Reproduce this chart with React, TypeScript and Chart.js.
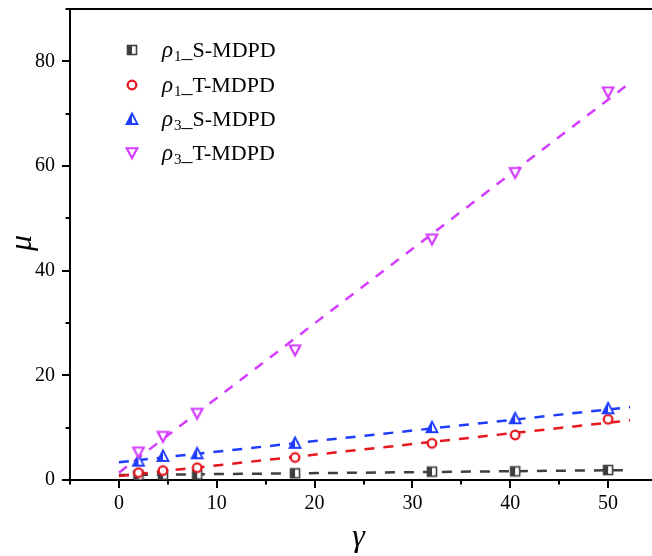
import React, { useEffect, useRef } from "react";
import { Chart, registerables } from "chart.js";

Chart.register(...registerables);

// ---- data ----
const gammaValues = [2, 4.5, 8, 18, 32, 40.5, 50];
const rho1S = [0.9, 1.0, 1.05, 1.28, 1.6, 1.65, 1.9];
const rho1T = [1.4, 1.8, 2.35, 4.3, 7.0, 8.6, 11.6];
const rho3S = [3.7, 4.6, 5.1, 7.1, 10.1, 11.8, 13.7];
const rho3T = [5.3, 8.3, 12.7, 24.8, 46.0, 58.7, 74.1];

// linear fit lines (start / end)
const fitX = [0, 52.25];
const fit1S = [0.95, 1.9];
const fit1T = [0.76, 11.4];
const fit3S = [3.4, 13.93];
const fit3T = [1.4, 75.9];

const seriesSub = ["1", "1", "3", "3"];
const seriesSuffix = ["_S-MDPD", "_T-MDPD", "_S-MDPD", "_T-MDPD"];
const seriesNames = ["ρ1_S-MDPD", "ρ1_T-MDPD", "ρ3_S-MDPD", "ρ3_T-MDPD"];

const xTickLabels = [0, 10, 20, 30, 40, 50];
const yTickLabels = [0, 20, 40, 60, 80];
const xTitle = "γ";
const yTitle = "μ";

const W = 670;
const H = 556;
const SERIF = "'Liberation Serif', 'DejaVu Serif', serif";

const COLORS = ["#3f3f3f", "#e8161e", "#1f3cff", "#d43cff"];

function makeMarker(kind: string, color: string): HTMLCanvasElement {
  const c = document.createElement("canvas");
  c.width = 16;
  c.height = 16;
  const g = c.getContext("2d")!;
  const cx = 8,
    cy = 8;
  g.strokeStyle = color;
  g.fillStyle = color;
  if (kind === "halfSquare") {
    const s = 9;
    const x0 = cx - s / 2,
      y0 = cy - s / 2;
    g.fillStyle = "#ffffff";
    g.fillRect(x0, y0, s, s);
    g.fillStyle = color;
    g.fillRect(x0, y0, s / 2, s);
    g.lineWidth = 1.6;
    g.strokeRect(x0, y0, s, s);
  } else if (kind === "circle") {
    g.lineWidth = 2.3;
    g.beginPath();
    g.arc(cx, cy, 4.3, 0, Math.PI * 2);
    g.fillStyle = "#ffffff";
    g.fill();
    g.stroke();
  } else if (kind === "halfTriUp") {
    const w = 11,
      h = 10;
    const path = () => {
      g.beginPath();
      g.moveTo(cx, cy - h / 2 - 0.5);
      g.lineTo(cx + w / 2, cy + h / 2);
      g.lineTo(cx - w / 2, cy + h / 2);
      g.closePath();
    };
    path();
    g.fillStyle = "#ffffff";
    g.fill();
    g.save();
    g.beginPath();
    g.rect(0, 0, cx, 16);
    g.clip();
    path();
    g.fillStyle = color;
    g.fill();
    g.restore();
    g.lineWidth = 1.8;
    g.lineJoin = "miter";
    path();
    g.stroke();
  } else if (kind === "triDown") {
    const w = 10.5,
      h = 9.5;
    g.beginPath();
    g.moveTo(cx - w / 2, cy - h / 2);
    g.lineTo(cx + w / 2, cy - h / 2);
    g.lineTo(cx, cy + h / 2 + 0.5);
    g.closePath();
    g.fillStyle = "#ffffff";
    g.fill();
    g.lineWidth = 2.2;
    g.stroke();
  }
  return c;
}

export default function App() {
  const ref = useRef<HTMLCanvasElement>(null);

  useEffect(() => {
    const prevOverflow = document.body.style.overflow;
    document.body.style.overflow = "hidden";
    const canvas = ref.current!;

    const markers = [
      makeMarker("halfSquare", COLORS[0]),
      makeMarker("circle", COLORS[1]),
      makeMarker("halfTriUp", COLORS[2]),
      makeMarker("triDown", COLORS[3]),
    ];

    const series = [rho1S, rho1T, rho3S, rho3T];
    const fits = [fit1S, fit1T, fit3S, fit3T];

    const pointDs = (i: number) => ({
      label: seriesNames[i],
      data: gammaValues.map((x, k) => ({ x, y: series[i][k] })),
      showLine: false,
      pointStyle: markers[i] as any,
      pointRadius: 5,
      borderColor: COLORS[i],
      backgroundColor: COLORS[i],
    });
    const lineDs = (i: number) => ({
      label: seriesNames[i] + " fit",
      data: fitX.map((x, k) => ({ x, y: fits[i][k] })),
      showLine: true,
      pointRadius: 0,
      borderColor: COLORS[i],
      borderWidth: 2.5,
      borderDash: [10, 9],
      fill: false,
    });

    const decor = {
      id: "decor",
      afterDraw(chart: any) {
        const ctx = chart.ctx as CanvasRenderingContext2D;
        const a = chart.chartArea;
        const xs = chart.scales.x;
        const ys = chart.scales.y;
        ctx.save();
        ctx.strokeStyle = "#000";
        ctx.lineWidth = 2;
        // top frame line
        ctx.beginPath();
        ctx.moveTo(a.left - 1, a.top);
        ctx.lineTo(a.right, a.top);
        ctx.stroke();
        // right frame line
        ctx.beginPath();
        ctx.moveTo(a.right, a.top);
        ctx.lineTo(a.right, a.bottom);
        ctx.stroke();
        // x ticks
        for (let v = -5; v <= 55; v += 5) {
          const px = Math.round(xs.getPixelForValue(v));
          const len = v % 10 === 0 ? 8 : 4.5;
          ctx.beginPath();
          ctx.moveTo(px, a.bottom);
          ctx.lineTo(px, a.bottom + len);
          ctx.stroke();
        }
        // y ticks
        for (let v = 0; v <= 90; v += 10) {
          const py = Math.round(ys.getPixelForValue(v));
          const len = v % 20 === 0 ? 8 : 4.5;
          ctx.beginPath();
          ctx.moveTo(a.left, py);
          ctx.lineTo(a.left - len, py);
          ctx.stroke();
        }
        // axis titles
        ctx.fillStyle = "#000";
        ctx.textAlign = "center";
        ctx.textBaseline = "middle";
        ctx.font = `italic 32px ${SERIF}`;
        ctx.fillText(xTitle, (a.left + a.right) / 2 - 5, 538);
        ctx.save();
        ctx.translate(23, 243);
        ctx.rotate(-Math.PI / 2);
        ctx.fillText(yTitle, 0, 0);
        ctx.restore();

        // legend
        for (let i = 0; i < 4; i++) {
          const base = 57.3 + i * 34.3;
          const my = base - 7;
          ctx.drawImage(markers[i], 132 - 8, Math.round(my) - 8);
          ctx.textAlign = "left";
          ctx.textBaseline = "alphabetic";
          ctx.fillStyle = "#000";
          ctx.font = `italic 23px ${SERIF}`;
          ctx.fillText("ρ", 162, base);
          const rw = ctx.measureText("ρ").width;
          ctx.font = `15px ${SERIF}`;
          ctx.fillText(seriesSub[i], 162 + rw + 1, base + 4);
          const sw = ctx.measureText(seriesSub[i]).width;
          ctx.font = `22px ${SERIF}`;
          ctx.fillText(seriesSuffix[i], 162 + rw + 1 + sw, base);
        }
        ctx.restore();
      },
    };

    const chart = new Chart(canvas, {
      type: "scatter",
      data: {
        datasets: [
          pointDs(3),
          pointDs(2),
          pointDs(1),
          pointDs(0),
          lineDs(3),
          lineDs(2),
          lineDs(1),
          lineDs(0),
        ] as any,
      },
      options: {
        animation: false,
        responsive: false,
        devicePixelRatio: 1,
        layout: { padding: { left: 0, right: 13, top: 9, bottom: 0 } },
        plugins: {
          legend: { display: false },
          tooltip: { enabled: false },
        },
        scales: {
          x: {
            type: "linear",
            min: -5,
            max: 55,
            afterFit: (s: any) => {
              s.height = 76;
              s.paddingLeft = 0;
              s.paddingRight = 0;
            },
            grid: { display: false, drawTicks: false },
            border: { display: true, color: "#000", width: 2 },
            ticks: {
              stepSize: 5,
              autoSkip: false,
              maxRotation: 0,
              padding: 12,
              color: "#000",
              font: { family: SERIF, size: 20 },
              callback: (v: any) =>
                xTickLabels.includes(Number(v)) ? String(v) : "",
            },
          },
          y: {
            type: "linear",
            min: 0,
            max: 90,
            afterFit: (s: any) => {
              s.width = 70;
              s.paddingTop = 0;
              s.paddingBottom = 0;
            },
            grid: { display: false, drawTicks: false },
            border: { display: true, color: "#000", width: 2 },
            ticks: {
              stepSize: 10,
              autoSkip: false,
              padding: 15,
              color: "#000",
              font: { family: SERIF, size: 20 },
              callback: (v: any) =>
                yTickLabels.includes(Number(v)) ? String(v) : "",
            },
          },
        },
      },
      plugins: [decor],
    });

    return () => {
      chart.destroy();
      document.body.style.overflow = prevOverflow;
    };
  }, []);

  return (
    <div style={{ position: "absolute", left: 0, top: 0, width: W, height: H }}>
      <canvas
        ref={ref}
        width={W}
        height={H}
        style={{ display: "block", width: W, height: H }}
      />
    </div>
  );
}
